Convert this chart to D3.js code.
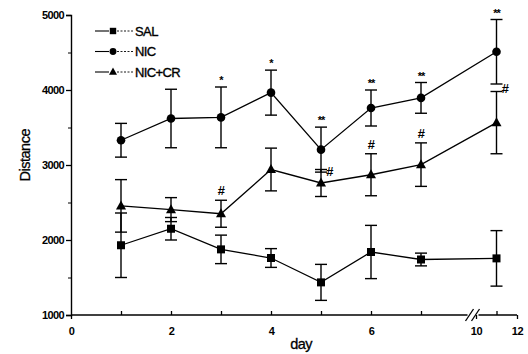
<!DOCTYPE html>
<html>
<head>
<meta charset="utf-8">
<script src="https://cdn.jsdelivr.net/npm/d3@7"></script>
<style>
  body { margin: 0; background: #fff; }
  svg { display: block; font-family: "Liberation Sans", Arial, sans-serif; }
</style>
</head>
<body>
<svg id="chart" width="528" height="354"></svg>
<script>
// data
const days = [1, 2, 3, 4, 5, 6, 7, 11];
const salMean = [1930, 2150, 1875, 1760, 1435, 1840, 1740, 1755];
const salErr = [430, 150, 190, 125, 240, 355, 85, 370];
const nicMean = [3330, 3620, 3635, 3965, 3205, 3760, 3895, 4510];
const nicErr = [225, 390, 405, 300, 300, 240, 205, 430];
const crMean = [2455, 2405, 2350, 2940, 2760, 2870, 3005, 3565];
const crErr = [350, 160, 180, 285, 180, 280, 290, 415];
const nicSig = ['', '', '*', '*', '**', '**', '**', '**'];
const crSig = ['', '', '#', '', '#', '#', '#', '#'];
const seriesNames = ['SAL', 'NIC', 'NIC+CR'];
const yTicks = [1000, 2000, 3000, 4000, 5000];
const yMinor = [1500, 2500, 3500, 4500];
const xTicks = [0, 1, 2, 3, 4, 5, 6, 7, 10, 11, 12];
const xLabels = [0, 2, 4, 6, 10, 12];

(() => {
  let svg;
  let x;
  let y;
  let series;
  let line;
  let drawMarker;
  let xAxis;
  let breakX;

  svg = d3.select('#chart');

  // broken axis: 0..8 wide, 10..12 compressed
  x = d3.scaleLinear().domain([0, 8, 10, 12]).range([71, 471, 476, 517]);
  y = d3.scaleLinear().domain([1000, 5000]).range([315, 15]);

  series = [
    { name: seriesNames[0], shape: 'square', mean: salMean, err: salErr },
    { name: seriesNames[1], shape: 'circle', mean: nicMean, err: nicErr },
    { name: seriesNames[2], shape: 'triangle', mean: crMean, err: crErr }
  ];

  // y axis
  svg.append('g')
    .attr('transform', `translate(${x(0)},0)`)
    .call(d3.axisLeft(y).tickValues(yTicks).tickSize(5).tickPadding(2).tickFormat(d3.format('d')))
    .call(g => g.select('.domain').attr('stroke-width', 1.4))
    .call(g => g.selectAll('.tick line').attr('stroke-width', 1.3))
    .call(g => g.selectAll('.tick text')
      .attr('font-size', 11)
      .attr('font-weight', 'bold')
      .attr('letter-spacing', -0.6)
      .attr('font-family', '"Liberation Sans", Arial, sans-serif'));

  svg.append('g')
    .attr('transform', `translate(${x(0)},0)`)
    .call(d3.axisLeft(y).tickValues(yMinor).tickSize(3).tickFormat(''))
    .call(g => g.select('.domain').remove());

  // x axis, domain line drawn by hand around the break
  xAxis = d3.axisBottom(x)
    .tickValues(xTicks)
    .tickSizeInner(-4)
    .tickSizeOuter(0)
    .tickPadding(12)
    .tickFormat(d => (xLabels.includes(d) ? d : ''));

  svg.append('g')
    .attr('transform', `translate(0,${y(1000)})`)
    .call(xAxis)
    .call(g => g.select('.domain').remove())
    .call(g => g.selectAll('.tick line').attr('stroke-width', 1.3))
    .call(g => g.selectAll('.tick')
      .filter(d => d === 0 || d === 10 || d === 12)
      .select('line').attr('y2', 4))
    .call(g => g.selectAll('.tick text')
      .attr('font-size', 11)
      .attr('font-weight', 'bold')
      .attr('letter-spacing', -0.4)
      .attr('font-family', '"Liberation Sans", Arial, sans-serif'));

  breakX = (x(8) + x(10)) / 2;
  svg.append('line')
    .attr('x1', x(0)).attr('x2', breakX - 6)
    .attr('y1', y(1000)).attr('y2', y(1000))
    .attr('stroke', '#000').attr('stroke-width', 1.5);
  svg.append('line')
    .attr('x1', breakX + 5).attr('x2', x(12))
    .attr('y1', y(1000)).attr('y2', y(1000))
    .attr('stroke', '#000').attr('stroke-width', 1.5);
  [-4, 2].forEach(off => {
    svg.append('line')
      .attr('x1', breakX + off - 4).attr('y1', y(1000) + 6)
      .attr('x2', breakX + off + 4).attr('y2', y(1000) - 6)
      .attr('stroke', '#000').attr('stroke-width', 1.3);
  });

  // axis titles
  svg.append('text')
    .attr('x', x(4.6)).attr('y', 349)
    .attr('text-anchor', 'middle')
    .attr('font-size', 14.5)
    .attr('letter-spacing', -0.6)
    .attr('stroke', '#000').attr('stroke-width', 0.3)
    .text('day');

  svg.append('text')
    .attr('transform', `translate(30,${y(3130)}) rotate(-90)`)
    .attr('text-anchor', 'middle')
    .attr('font-size', 14.5)
    .attr('letter-spacing', -0.5)
    .attr('stroke', '#000').attr('stroke-width', 0.3)
    .text('Distance');

  drawMarker = (g, shape, cx, cy, k) => {
    k = k || 1;
    if (shape === 'square') {
      g.append('rect')
        .attr('x', cx - 4 * k).attr('y', cy - 4 * k)
        .attr('width', 8 * k).attr('height', 8 * k)
        .attr('fill', '#000');
    } else if (shape === 'circle') {
      g.append('circle')
        .attr('cx', cx).attr('cy', cy).attr('r', 4.3 * k)
        .attr('fill', '#000');
    } else {
      g.append('path')
        .attr('d', `M${cx},${cy - 5.5 * k}L${cx + 5 * k},${cy + 3.5 * k}L${cx - 5 * k},${cy + 3.5 * k}Z`)
        .attr('fill', '#000');
    }
  };

  line = d3.line()
    .x(d => x(d.day))
    .y(d => y(d.v));

  series.forEach(s => {
    let g;
    let pts;
    g = svg.append('g');
    pts = days.map((d, i) => ({ day: d, v: s.mean[i], e: s.err[i] }));
    g.append('path')
      .datum(pts)
      .attr('d', line)
      .attr('fill', 'none')
      .attr('stroke', '#000')
      .attr('stroke-width', 1.3);
    pts.forEach(p => {
      let cx;
      cx = x(p.day);
      g.append('line')
        .attr('x1', cx).attr('x2', cx)
        .attr('y1', y(p.v - p.e)).attr('y2', y(p.v + p.e))
        .attr('stroke', '#000').attr('stroke-width', 1.4);
      [p.v - p.e, p.v + p.e].forEach(v => {
        g.append('line')
          .attr('x1', cx - 6).attr('x2', cx + 6)
          .attr('y1', y(v)).attr('y2', y(v))
          .attr('stroke', '#000').attr('stroke-width', 1.4);
      });
      drawMarker(g, s.shape, cx, y(p.v));
    });
  });

  // significance marks
  days.forEach((d, i) => {
    let cx;
    let nicTop;
    let nicLow;
    let crTop;
    cx = x(d);
    nicTop = y(nicMean[i] + nicErr[i]);
    nicLow = y(nicMean[i] - nicErr[i]);
    crTop = y(crMean[i] + crErr[i]);
    if (nicSig[i]) {
      svg.append('text')
        .attr('x', cx).attr('y', nicTop - 3)
        .attr('text-anchor', 'middle')
        .attr('font-size', 11)
        .attr('font-weight', 'bold')
        .attr('letter-spacing', -1)
        .text(nicSig[i]);
    }
    if (crSig[i]) {
      if (crTop - nicLow < 20) {
        svg.append('text')
          .attr('x', cx + 5).attr('y', (crTop + nicLow) / 2 + 5)
          .attr('font-size', 13)
          .attr('font-weight', 'bold')
          .attr('font-style', 'italic')
          .text(crSig[i]);
      } else {
        svg.append('text')
          .attr('x', cx).attr('y', crTop - 5)
          .attr('text-anchor', 'middle')
          .attr('font-size', 13)
          .attr('font-weight', 'bold')
          .attr('font-style', 'italic')
          .text(crSig[i]);
      }
    }
  });

  // legend
  series.forEach((s, i) => {
    let g;
    let ly;
    ly = 31 + i * 20.5;
    g = svg.append('g');
    g.append('line')
      .attr('x1', 95).attr('x2', 109).attr('y1', ly).attr('y2', ly)
      .attr('stroke', '#000').attr('stroke-width', 1.1);
    g.append('line')
      .attr('x1', 117).attr('x2', 133).attr('y1', ly).attr('y2', ly)
      .attr('stroke', '#000').attr('stroke-width', 0.9)
      .attr('stroke-dasharray', '2,1.5');
    drawMarker(g, s.shape, 113, ly, 0.8);
    g.append('text')
      .attr('x', 135).attr('y', ly + 4.5)
      .attr('font-size', 13)
      .attr('letter-spacing', -0.6)
      .attr('stroke', '#000').attr('stroke-width', 0.35)
      .text(s.name);
  });
})();
</script>
</body>
</html>
